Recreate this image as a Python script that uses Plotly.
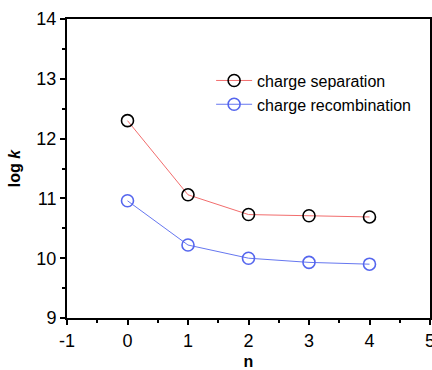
import plotly.graph_objects as go

n_values = [0, 1, 2, 3, 4]
sep_values = [12.30, 11.06, 10.73, 10.71, 10.69]
rec_values = [10.96, 10.22, 10.00, 9.93, 9.90]
series_names = ["charge separation", "charge recombination"]
x_ticks = [-1, 0, 1, 2, 3, 4, 5]
x_tick_labels = ["-1", "0", "1", "2", "3", "4", "5"]
y_ticks = [9, 10, 11, 12, 13, 14]
y_tick_labels = ["9", "10", "11", "12", "13", "14"]

FONT = "Liberation Sans, Arial, sans-serif"

fig = go.Figure()
fig.add_trace(go.Scatter(
    x=n_values, y=sep_values, name=series_names[0], mode="lines+markers",
    line=dict(color="#f26d6d", width=1),
    marker=dict(symbol="circle-open", size=12, color="black", line=dict(width=1.6, color="black")),
))
fig.add_trace(go.Scatter(
    x=n_values, y=rec_values, name=series_names[1], mode="lines+markers",
    line=dict(color="#6677f0", width=1),
    marker=dict(symbol="circle-open", size=12, color="#5566ee", line=dict(width=1.6, color="#5566ee")),
))

axis_common = dict(
    showline=True, linecolor="black", linewidth=2, mirror=True,
    ticks="outside", ticklen=5, tickwidth=2, tickcolor="black",
    showgrid=False, zeroline=False, automargin=False,
    ticklabeloverflow="allow",
    tickfont=dict(family=FONT, size=18, color="black"),
    minor=dict(ticks="outside", ticklen=3, tickwidth=2, tickcolor="black", dtick=0.5, showgrid=False),
)

fig.update_xaxes(range=[-1, 5], tickmode="array", tickvals=x_ticks, ticktext=x_tick_labels, **axis_common,
                 title=dict(text="<b>n</b>", font=dict(family=FONT, size=16, color="black"), standoff=14))
fig.update_yaxes(range=[9, 14], tickmode="array", tickvals=y_ticks, ticktext=y_tick_labels, **axis_common,
                 title=dict(text="<b>log <i>k</i></b>", font=dict(family=FONT, size=16, color="black"), standoff=12))

fig.update_layout(
    width=432, height=370,
    margin=dict(l=67, r=2, t=19, b=52),
    paper_bgcolor="white", plot_bgcolor="white",
    showlegend=True,
    legend=dict(x=0.397, y=0.754, xanchor="left", yanchor="middle",
                bgcolor="rgba(0,0,0,0)", font=dict(family=FONT, size=16, color="black"),
                tracegroupgap=0, itemwidth=36),
    font=dict(family=FONT),
)

fig.write_html("out.html", config={"displayModeBar": False},
               post_script="document.body.style.margin='0';document.body.style.overflow='hidden';")
